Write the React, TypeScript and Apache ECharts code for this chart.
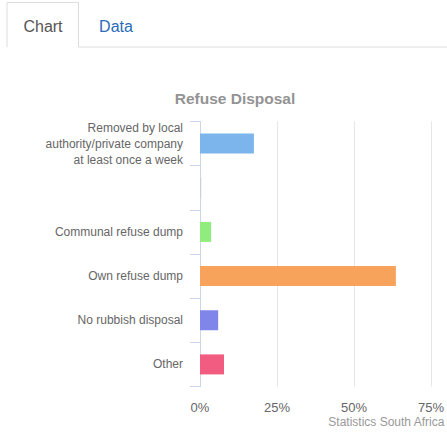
import React, { useEffect, useRef } from "react";
import * as echarts from "echarts";

const categories: string[] = [
  "Removed by local\nauthority/private company\nat least once a week",
  "",
  "Communal refuse dump",
  "Own refuse dump",
  "No rubbish disposal",
  "Other",
];
const values: number[] = [17.5, 0.4, 3.6, 63.6, 5.9, 7.8];
const barColors: string[] = ["#7cb5ec", "#c9d0dc", "#90ed7d", "#f7a35c", "#8085e9", "#f15c80"];
const tickMin = 0;
const tickMax = 75;
const tickStep = 25;

export default function App() {
  const ref = useRef<HTMLDivElement>(null);
  useEffect(() => {
    if (!ref.current) return;
    const chart = echarts.init(ref.current, undefined, { renderer: "svg" });
    const font = "Arial, 'Liberation Sans', sans-serif";
    chart.setOption({
      animation: false,
      backgroundColor: "#ffffff",
      title: {
        text: "Refuse Disposal",
        left: 230,
        textAlign: "center",
        top: 85,
        textStyle: { fontSize: 15.5, fontWeight: "bold", color: "#939393", fontFamily: font },
      },
      graphic: [
        {
          type: "polyline",
          shape: { points: [[7, 47], [7, 2.5], [78.5, 2.5], [78.5, 47], [447, 47]] },
          style: { stroke: "#dddddd", lineWidth: 1, fill: null },
        },
        {
          type: "text",
          x: 43,
          y: 26,
          style: { text: "Chart", fontSize: 16, fill: "#555555", fontFamily: font, textAlign: "center", textVerticalAlign: "middle" },
        },
        {
          type: "text",
          x: 116,
          y: 26,
          style: { text: "Data", fontSize: 16, fill: "#2a6cb8", fontFamily: font, textAlign: "center", textVerticalAlign: "middle" },
        },
        {
          type: "text",
          right: 2,
          top: 416,
          style: { text: "Statistics South Africa", fontSize: 12, fill: "#999999", fontFamily: font },
        },
      ],
      grid: { left: 200, right: 10, top: 121.5, bottom: 47.5, containLabel: false },
      xAxis: {
        type: "value",
        min: tickMin,
        max: tickMax,
        interval: tickStep,
        axisLine: { show: false },
        axisTick: { show: false },
        splitLine: { show: true, lineStyle: { color: "#e6e6e6", width: 1 } },
        axisLabel: {
          formatter: "{value}%",
          color: "#666666",
          fontSize: 13,
          fontFamily: font,
          margin: 14,
        },
      },
      yAxis: {
        type: "category",
        inverse: true,
        data: categories,
        axisLine: { show: true, lineStyle: { color: "#ccd6eb", width: 1 } },
        axisTick: { show: true, length: 10, lineStyle: { color: "#ccd6eb" } },
        axisLabel: {
          color: "#666666",
          fontSize: 12,
          fontFamily: font,
          margin: 17,
          lineHeight: 16,
          align: "right",
          padding: [6, 0, 0, 0],
        },
      },
      series: [
        {
          type: "bar",
          barWidth: 20,
          data: values.map((v, i) => ({ value: v, itemStyle: { color: barColors[i] } })),
        },
      ],
    });
    return () => chart.dispose();
  }, []);
  return (
    <div
      ref={ref}
      style={{ position: "fixed", left: 0, top: 0, width: 447, height: 434 }}
    />
  );
}
